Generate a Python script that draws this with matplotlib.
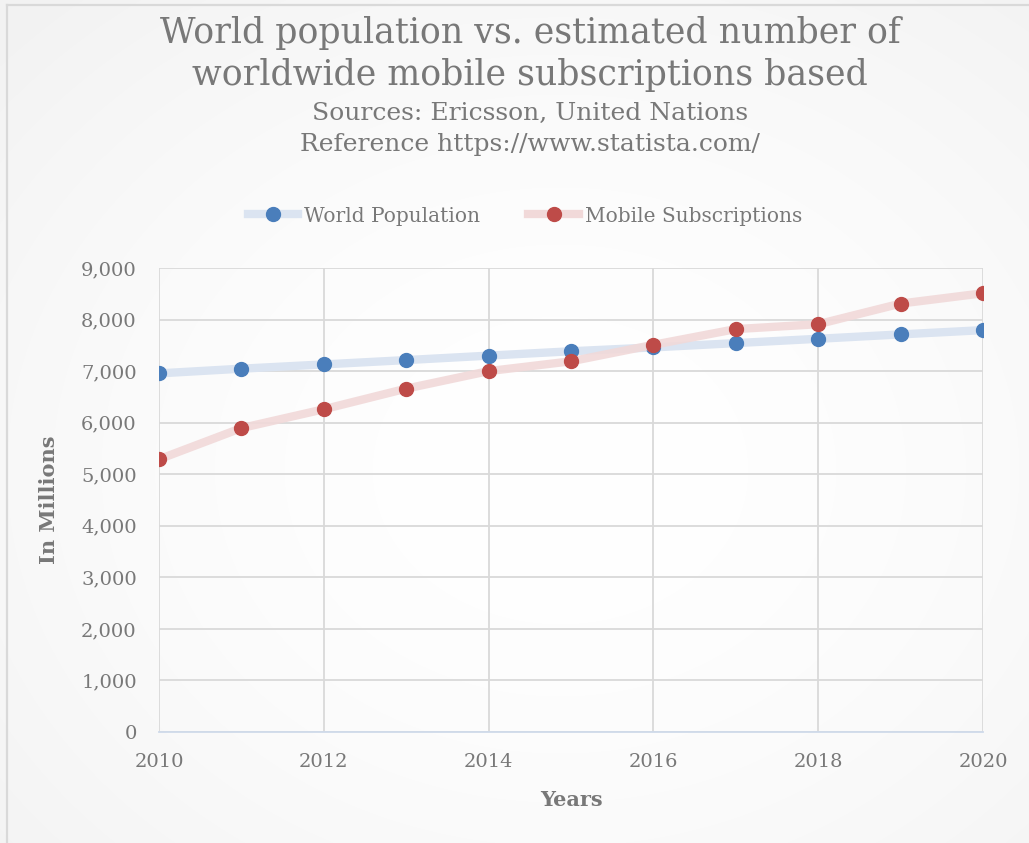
import numpy as np
import matplotlib
matplotlib.use("Agg")
import matplotlib.pyplot as plt
from matplotlib.lines import Line2D

# Data (millions)
years = [2010, 2011, 2012, 2013, 2014, 2015, 2016, 2017, 2018, 2019, 2020]
world_population = [6956, 7047, 7130, 7214, 7300, 7385, 7460, 7543, 7627, 7712, 7795]
mobile_subscriptions = [5290, 5895, 6260, 6660, 7000, 7190, 7510, 7815, 7910, 8310, 8510]
x_ticks = [2010, 2012, 2014, 2016, 2018, 2020]
y_ticks = [0, 1000, 2000, 3000, 4000, 5000, 6000, 7000, 8000, 9000]

title_lines = ["World population vs. estimated number of",
               "worldwide mobile subscriptions based"]
subtitle_lines = ["Sources: Ericsson, United Nations",
                  "Reference https://www.statista.com/"]
series_names = ["World Population", "Mobile Subscriptions"]

FONT = "DejaVu Serif"
TEXT = "#787878"
BLUE = "#4a7ebb"
RED = "#be4b48"
BLUE_LINE = "#dbe4f1"
RED_LINE = "#f1d9d9"

W, H = 1029, 843
fig = plt.figure(figsize=(W / 100, H / 100), dpi=100)

# soft radial background
bg = fig.add_axes([0, 0, 1, 1], zorder=-10)
yy, xx = np.mgrid[0:H, 0:W]
r = np.hypot((xx - 560) / W, (yy - 470) / H)
shade = 1.0 - 0.05 * np.clip(r / 0.75, 0, 1) ** 1.8
bg.imshow(np.dstack([shade] * 3), extent=[0, 1, 0, 1], aspect="auto", origin="upper")
bg.plot([7 / W, 7 / W], [0, 1 - 5 / H], color="#d9d9d9", lw=1.6)
bg.plot([7 / W, 1], [1 - 5 / H, 1 - 5 / H], color="#d9d9d9", lw=1.6)
bg.set_xlim(0, 1)
bg.set_ylim(0, 1)
bg.axis("off")

left, right = 159 / W, 983 / W
bottom, top = 1 - 732 / H, 1 - 268 / H
ax = fig.add_axes([left, bottom, right - left, top - bottom])
ax.patch.set_alpha(0)

ax.plot(years, world_population, color=BLUE_LINE, lw=6, solid_capstyle="round", zorder=3)
ax.plot(years, world_population, "o", color=BLUE, ms=10, zorder=4)
ax.plot(years, mobile_subscriptions, color=RED_LINE, lw=6, solid_capstyle="round", zorder=5,
        alpha=0.9)
ax.plot(years, mobile_subscriptions, "o", color=RED, ms=10, zorder=6)

ax.set_xlim(x_ticks[0], x_ticks[-1])
ax.set_ylim(y_ticks[0], y_ticks[-1])
ax.set_xticks(x_ticks)
ax.set_yticks(y_ticks)
ax.set_yticklabels([f"{v:,}" for v in y_ticks])
ax.grid(True, color="#d9d9d9", lw=1.3, zorder=0)
ax.set_axisbelow(True)
for s in ("top", "right", "left"):
    ax.spines[s].set_visible(False)
ax.spines["bottom"].set_color("#cfdaea")
ax.spines["bottom"].set_linewidth(1.3)
ax.tick_params(length=0, labelsize=14, labelcolor=TEXT)
ax.tick_params(axis="x", pad=15)
ax.tick_params(axis="y", pad=16)
for lab in ax.get_xticklabels() + ax.get_yticklabels():
    lab.set_family(FONT)

ax.set_xlabel("Years", family=FONT, fontsize=15, fontweight="bold", color=TEXT, labelpad=14)
ax.set_ylabel("In Millions", family=FONT, fontsize=15, fontweight="bold", color=TEXT, labelpad=16)

# titles
cx = 530 / W
fig.text(cx, 1 - 33 / H, title_lines[0], ha="center", va="center", family=FONT,
         fontsize=25, color=TEXT)
fig.text(cx, 1 - 75 / H, title_lines[1], ha="center", va="center", family=FONT,
         fontsize=25, color=TEXT)
fig.text(cx, 1 - 113 / H, subtitle_lines[0], ha="center", va="center", family=FONT,
         fontsize=18, color=TEXT)
fig.text(cx, 1 - 145 / H, subtitle_lines[1], ha="center", va="center", family=FONT,
         fontsize=18, color=TEXT)

handles = [
    Line2D([], [], color=BLUE_LINE, lw=6, marker="o", mfc=BLUE, mec=BLUE, ms=10),
    Line2D([], [], color=RED_LINE, lw=6, marker="o", mfc=RED, mec=RED, ms=10),
]
leg = fig.legend(handles, series_names, loc="center", bbox_to_anchor=(0.51, 1 - 216 / H),
                 ncol=2, frameon=False, prop={"family": FONT, "size": 14.5},
                 handlelength=2.5, columnspacing=2.4, handletextpad=0.3)
for t in leg.get_texts():
    t.set_color(TEXT)

fig.savefig("out.png", dpi=100)
